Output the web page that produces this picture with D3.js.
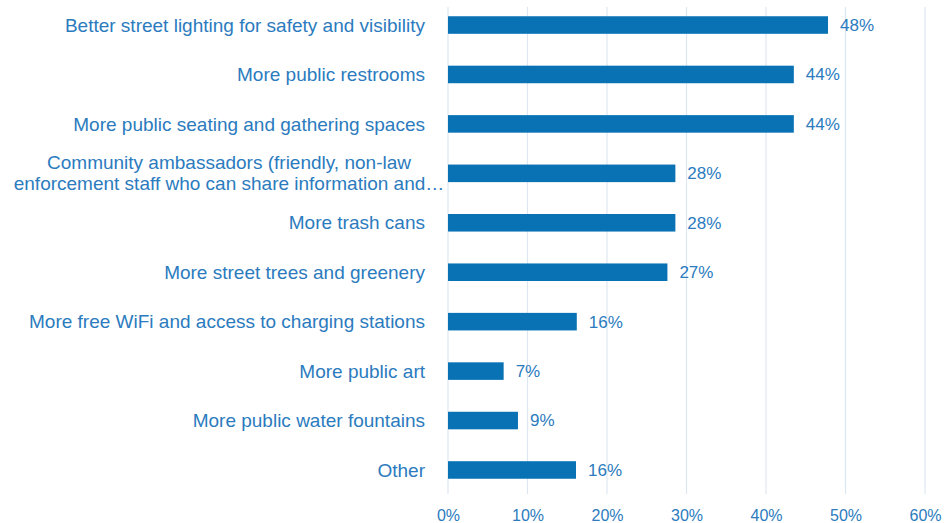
<!DOCTYPE html>
<html>
<head>
<meta charset="utf-8">
<script src="https://cdn.jsdelivr.net/npm/d3@7"></script>
<style>
  body { margin: 0; background: #fff; }
  svg { display: block; font-family: "Liberation Sans", Arial, sans-serif; }
</style>
</head>
<body>
<div id="chart"></div>
<script>
// categories, top to bottom (multi-line labels split by "|")
var categories = [
  "Better street lighting for safety and visibility",
  "More public restrooms",
  "More public seating and gathering spaces",
  "Community ambassadors (friendly, non-law|enforcement staff who can share information and…",
  "More trash cans",
  "More street trees and greenery",
  "More free WiFi and access to charging stations",
  "More public art",
  "More public water fountains",
  "Other"
];
// bar lengths (percent)
var values = [47.8, 43.5, 43.5, 28.6, 28.6, 27.6, 16.2, 7.0, 8.8, 16.1];
// printed data labels
var valueLabels = ["48%", "44%", "44%", "28%", "28%", "27%", "16%", "7%", "9%", "16%"];
var ticks = [0, 10, 20, 30, 40, 50, 60];

var svgWidth = 950, svgHeight = 523;
var textColor = "#2B7BBE", barColor = "#0872B4", gridColor = "#DDE7F1";

var svg = d3.select("#chart")
  .append("svg")
  .attr("width", svgWidth)
  .attr("height", svgHeight);

var xScale = d3.scaleLinear()
  .domain([0, 60])
  .range([448, 925]);

var yScale = d3.scaleBand()
  .domain(categories)
  .range([0.3, 494.7])
  .paddingInner(0.645)
  .paddingOuter(0.3225);

// gridlines
svg.append("g")
  .selectAll("line")
  .data(ticks)
  .enter().append("line")
  .attr("x1", d => xScale(d))
  .attr("x2", d => xScale(d))
  .attr("y1", 7)
  .attr("y2", 494)
  .attr("stroke", gridColor)
  .attr("stroke-width", 1.2);

// x axis tick labels
var xAxis = svg.append("g")
  .attr("transform", "translate(0,507)")
  .call(d3.axisBottom(xScale).tickValues(ticks).tickFormat(d => d + "%").tickSize(0));
xAxis.select(".domain").remove();
xAxis.selectAll("text")
  .attr("fill", textColor)
  .style("font-size", "16px")
  .style("font-family", "'Liberation Sans', Arial, sans-serif");

// bars
svg.selectAll(".bar")
  .data(values)
  .enter().append("rect")
  .attr("class", "bar")
  .attr("x", xScale(0))
  .attr("y", (d, i) => yScale(categories[i]))
  .attr("width", d => xScale(d) - xScale(0))
  .attr("height", yScale.bandwidth())
  .attr("fill", barColor);

// value labels
svg.selectAll(".val")
  .data(values)
  .enter().append("text")
  .attr("class", "val")
  .attr("x", d => xScale(d) + 12)
  .attr("y", (d, i) => yScale(categories[i]) + yScale.bandwidth() / 2)
  .attr("dy", "0.35em")
  .attr("fill", textColor)
  .style("font-size", "17px")
  .text((d, i) => valueLabels[i]);

// category labels
categories.forEach(function(c, i) {
  var cy = yScale(c) + yScale.bandwidth() / 2;
  var lines = c.split("|");
  if (lines.length === 1) {
    svg.append("text")
      .attr("x", 425)
      .attr("y", cy)
      .attr("dy", "0.35em")
      .attr("text-anchor", "end")
      .attr("fill", textColor)
      .style("font-size", "19px")
      .text(c);
  } else {
    lines.forEach(function(l, j) {
      svg.append("text")
        .attr("x", 229)
        .attr("y", cy + (j - (lines.length - 1) / 2) * 21)
        .attr("dy", "0.35em")
        .attr("text-anchor", "middle")
        .attr("fill", textColor)
        .style("font-size", "19px")
        .text(l);
    });
  }
});
</script>
</body>
</html>
